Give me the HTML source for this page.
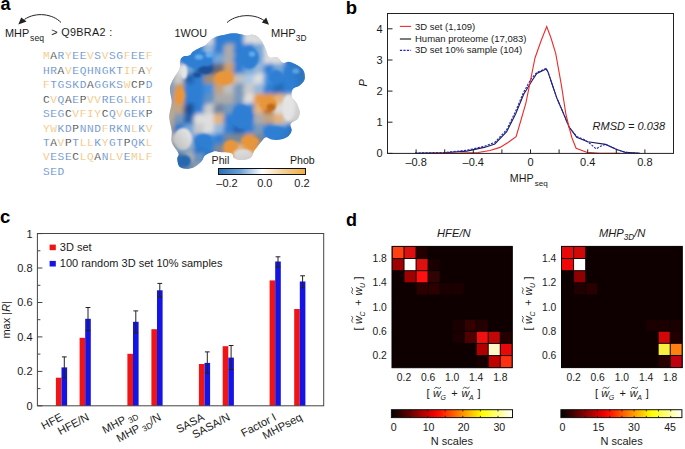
<!DOCTYPE html>
<html><head><meta charset="utf-8"><style>
html,body{margin:0;padding:0;background:#fff;width:685px;height:449px;overflow:hidden}
svg{display:block}
text{font-family:"Liberation Sans", sans-serif;fill:#1a1a1a}
.mono{font-family:"Liberation Mono", monospace;stroke:#fff;stroke-width:0.18px}
.b{font-weight:bold;fill:#000}
.i{font-style:italic}
</style></head><body>
<svg width="685" height="449" viewBox="0 0 685 449">
<defs>
<marker id="ah" viewBox="0 0 10 10" refX="9" refY="5" markerWidth="6" markerHeight="6" orient="auto-start-reverse"><path d="M0,0 L10,5 L0,10 z" fill="#222"/></marker>
</defs>

<text class="b" x="0.4" y="10" font-size="18">a</text>
<path d="M61,22.5 C53,14 36,11.5 24.5,19.4" fill="none" stroke="#222" stroke-width="1"/>
<path d="M18.3,24.6 L21.2,17.6 L26.6,21.6 Z" fill="#222"/>
<text x="5" y="36.7" font-size="10.9">MHP</text>
<text x="30.1" y="40.7" font-size="8.6">seq</text>
<text x="51.2" y="35.9" font-size="10.8" textLength="61" lengthAdjust="spacing">&gt; Q9BRA2 :</text>
<text class="mono" x="46.30" y="59.20" font-size="11.2" text-anchor="middle" style="fill:#f2bd6c">M</text>
<text class="mono" x="53.64" y="59.20" font-size="11.2" text-anchor="middle" style="fill:#333333">A</text>
<text class="mono" x="60.98" y="59.20" font-size="11.2" text-anchor="middle" style="fill:#4f82c6">R</text>
<text class="mono" x="68.32" y="59.20" font-size="11.2" text-anchor="middle" style="fill:#f2bd6c">Y</text>
<text class="mono" x="75.66" y="59.20" font-size="11.2" text-anchor="middle" style="fill:#4f82c6">E</text>
<text class="mono" x="83.00" y="59.20" font-size="11.2" text-anchor="middle" style="fill:#4f82c6">E</text>
<text class="mono" x="90.34" y="59.20" font-size="11.2" text-anchor="middle" style="fill:#f2bd6c">V</text>
<text class="mono" x="97.68" y="59.20" font-size="11.2" text-anchor="middle" style="fill:#4f82c6">S</text>
<text class="mono" x="105.02" y="59.20" font-size="11.2" text-anchor="middle" style="fill:#f2bd6c">V</text>
<text class="mono" x="112.36" y="59.20" font-size="11.2" text-anchor="middle" style="fill:#4f82c6">S</text>
<text class="mono" x="119.70" y="59.20" font-size="11.2" text-anchor="middle" style="fill:#4f82c6">G</text>
<text class="mono" x="127.04" y="59.20" font-size="11.2" text-anchor="middle" style="fill:#f2bd6c">F</text>
<text class="mono" x="134.38" y="59.20" font-size="11.2" text-anchor="middle" style="fill:#4f82c6">E</text>
<text class="mono" x="141.72" y="59.20" font-size="11.2" text-anchor="middle" style="fill:#4f82c6">E</text>
<text class="mono" x="149.06" y="59.20" font-size="11.2" text-anchor="middle" style="fill:#f2bd6c">F</text>
<text class="mono" x="46.30" y="73.67" font-size="11.2" text-anchor="middle" style="fill:#4f82c6">H</text>
<text class="mono" x="53.64" y="73.67" font-size="11.2" text-anchor="middle" style="fill:#4f82c6">R</text>
<text class="mono" x="60.98" y="73.67" font-size="11.2" text-anchor="middle" style="fill:#333333">A</text>
<text class="mono" x="68.32" y="73.67" font-size="11.2" text-anchor="middle" style="fill:#f2bd6c">V</text>
<text class="mono" x="75.66" y="73.67" font-size="11.2" text-anchor="middle" style="fill:#4f82c6">E</text>
<text class="mono" x="83.00" y="73.67" font-size="11.2" text-anchor="middle" style="fill:#4f82c6">Q</text>
<text class="mono" x="90.34" y="73.67" font-size="11.2" text-anchor="middle" style="fill:#4f82c6">H</text>
<text class="mono" x="97.68" y="73.67" font-size="11.2" text-anchor="middle" style="fill:#4f82c6">N</text>
<text class="mono" x="105.02" y="73.67" font-size="11.2" text-anchor="middle" style="fill:#4f82c6">G</text>
<text class="mono" x="112.36" y="73.67" font-size="11.2" text-anchor="middle" style="fill:#4f82c6">K</text>
<text class="mono" x="119.70" y="73.67" font-size="11.2" text-anchor="middle" style="fill:#4f82c6">T</text>
<text class="mono" x="127.04" y="73.67" font-size="11.2" text-anchor="middle" style="fill:#f2bd6c">I</text>
<text class="mono" x="134.38" y="73.67" font-size="11.2" text-anchor="middle" style="fill:#f2bd6c">F</text>
<text class="mono" x="141.72" y="73.67" font-size="11.2" text-anchor="middle" style="fill:#333333">A</text>
<text class="mono" x="149.06" y="73.67" font-size="11.2" text-anchor="middle" style="fill:#f2bd6c">Y</text>
<text class="mono" x="46.30" y="88.14" font-size="11.2" text-anchor="middle" style="fill:#f2bd6c">F</text>
<text class="mono" x="53.64" y="88.14" font-size="11.2" text-anchor="middle" style="fill:#4f82c6">T</text>
<text class="mono" x="60.98" y="88.14" font-size="11.2" text-anchor="middle" style="fill:#4f82c6">G</text>
<text class="mono" x="68.32" y="88.14" font-size="11.2" text-anchor="middle" style="fill:#4f82c6">S</text>
<text class="mono" x="75.66" y="88.14" font-size="11.2" text-anchor="middle" style="fill:#4f82c6">K</text>
<text class="mono" x="83.00" y="88.14" font-size="11.2" text-anchor="middle" style="fill:#4f82c6">D</text>
<text class="mono" x="90.34" y="88.14" font-size="11.2" text-anchor="middle" style="fill:#333333">A</text>
<text class="mono" x="97.68" y="88.14" font-size="11.2" text-anchor="middle" style="fill:#4f82c6">G</text>
<text class="mono" x="105.02" y="88.14" font-size="11.2" text-anchor="middle" style="fill:#4f82c6">G</text>
<text class="mono" x="112.36" y="88.14" font-size="11.2" text-anchor="middle" style="fill:#4f82c6">K</text>
<text class="mono" x="119.70" y="88.14" font-size="11.2" text-anchor="middle" style="fill:#4f82c6">S</text>
<text class="mono" x="127.04" y="88.14" font-size="11.2" text-anchor="middle" style="fill:#f2bd6c">W</text>
<text class="mono" x="134.38" y="88.14" font-size="11.2" text-anchor="middle" style="fill:#333333">C</text>
<text class="mono" x="141.72" y="88.14" font-size="11.2" text-anchor="middle" style="fill:#333333">P</text>
<text class="mono" x="149.06" y="88.14" font-size="11.2" text-anchor="middle" style="fill:#4f82c6">D</text>
<text class="mono" x="46.30" y="102.61" font-size="11.2" text-anchor="middle" style="fill:#333333">C</text>
<text class="mono" x="53.64" y="102.61" font-size="11.2" text-anchor="middle" style="fill:#f2bd6c">V</text>
<text class="mono" x="60.98" y="102.61" font-size="11.2" text-anchor="middle" style="fill:#4f82c6">Q</text>
<text class="mono" x="68.32" y="102.61" font-size="11.2" text-anchor="middle" style="fill:#333333">A</text>
<text class="mono" x="75.66" y="102.61" font-size="11.2" text-anchor="middle" style="fill:#4f82c6">E</text>
<text class="mono" x="83.00" y="102.61" font-size="11.2" text-anchor="middle" style="fill:#333333">P</text>
<text class="mono" x="90.34" y="102.61" font-size="11.2" text-anchor="middle" style="fill:#f2bd6c">V</text>
<text class="mono" x="97.68" y="102.61" font-size="11.2" text-anchor="middle" style="fill:#f2bd6c">V</text>
<text class="mono" x="105.02" y="102.61" font-size="11.2" text-anchor="middle" style="fill:#4f82c6">R</text>
<text class="mono" x="112.36" y="102.61" font-size="11.2" text-anchor="middle" style="fill:#4f82c6">E</text>
<text class="mono" x="119.70" y="102.61" font-size="11.2" text-anchor="middle" style="fill:#4f82c6">G</text>
<text class="mono" x="127.04" y="102.61" font-size="11.2" text-anchor="middle" style="fill:#f2bd6c">L</text>
<text class="mono" x="134.38" y="102.61" font-size="11.2" text-anchor="middle" style="fill:#4f82c6">K</text>
<text class="mono" x="141.72" y="102.61" font-size="11.2" text-anchor="middle" style="fill:#4f82c6">H</text>
<text class="mono" x="149.06" y="102.61" font-size="11.2" text-anchor="middle" style="fill:#f2bd6c">I</text>
<text class="mono" x="46.30" y="117.08" font-size="11.2" text-anchor="middle" style="fill:#4f82c6">S</text>
<text class="mono" x="53.64" y="117.08" font-size="11.2" text-anchor="middle" style="fill:#4f82c6">E</text>
<text class="mono" x="60.98" y="117.08" font-size="11.2" text-anchor="middle" style="fill:#4f82c6">G</text>
<text class="mono" x="68.32" y="117.08" font-size="11.2" text-anchor="middle" style="fill:#333333">C</text>
<text class="mono" x="75.66" y="117.08" font-size="11.2" text-anchor="middle" style="fill:#f2bd6c">V</text>
<text class="mono" x="83.00" y="117.08" font-size="11.2" text-anchor="middle" style="fill:#f2bd6c">F</text>
<text class="mono" x="90.34" y="117.08" font-size="11.2" text-anchor="middle" style="fill:#f2bd6c">I</text>
<text class="mono" x="97.68" y="117.08" font-size="11.2" text-anchor="middle" style="fill:#f2bd6c">Y</text>
<text class="mono" x="105.02" y="117.08" font-size="11.2" text-anchor="middle" style="fill:#333333">C</text>
<text class="mono" x="112.36" y="117.08" font-size="11.2" text-anchor="middle" style="fill:#4f82c6">Q</text>
<text class="mono" x="119.70" y="117.08" font-size="11.2" text-anchor="middle" style="fill:#f2bd6c">V</text>
<text class="mono" x="127.04" y="117.08" font-size="11.2" text-anchor="middle" style="fill:#4f82c6">G</text>
<text class="mono" x="134.38" y="117.08" font-size="11.2" text-anchor="middle" style="fill:#4f82c6">E</text>
<text class="mono" x="141.72" y="117.08" font-size="11.2" text-anchor="middle" style="fill:#4f82c6">K</text>
<text class="mono" x="149.06" y="117.08" font-size="11.2" text-anchor="middle" style="fill:#333333">P</text>
<text class="mono" x="46.30" y="131.55" font-size="11.2" text-anchor="middle" style="fill:#f2bd6c">Y</text>
<text class="mono" x="53.64" y="131.55" font-size="11.2" text-anchor="middle" style="fill:#f2bd6c">W</text>
<text class="mono" x="60.98" y="131.55" font-size="11.2" text-anchor="middle" style="fill:#4f82c6">K</text>
<text class="mono" x="68.32" y="131.55" font-size="11.2" text-anchor="middle" style="fill:#4f82c6">D</text>
<text class="mono" x="75.66" y="131.55" font-size="11.2" text-anchor="middle" style="fill:#333333">P</text>
<text class="mono" x="83.00" y="131.55" font-size="11.2" text-anchor="middle" style="fill:#4f82c6">N</text>
<text class="mono" x="90.34" y="131.55" font-size="11.2" text-anchor="middle" style="fill:#4f82c6">N</text>
<text class="mono" x="97.68" y="131.55" font-size="11.2" text-anchor="middle" style="fill:#4f82c6">D</text>
<text class="mono" x="105.02" y="131.55" font-size="11.2" text-anchor="middle" style="fill:#f2bd6c">F</text>
<text class="mono" x="112.36" y="131.55" font-size="11.2" text-anchor="middle" style="fill:#4f82c6">R</text>
<text class="mono" x="119.70" y="131.55" font-size="11.2" text-anchor="middle" style="fill:#4f82c6">K</text>
<text class="mono" x="127.04" y="131.55" font-size="11.2" text-anchor="middle" style="fill:#4f82c6">N</text>
<text class="mono" x="134.38" y="131.55" font-size="11.2" text-anchor="middle" style="fill:#f2bd6c">L</text>
<text class="mono" x="141.72" y="131.55" font-size="11.2" text-anchor="middle" style="fill:#4f82c6">K</text>
<text class="mono" x="149.06" y="131.55" font-size="11.2" text-anchor="middle" style="fill:#f2bd6c">V</text>
<text class="mono" x="46.30" y="146.02" font-size="11.2" text-anchor="middle" style="fill:#4f82c6">T</text>
<text class="mono" x="53.64" y="146.02" font-size="11.2" text-anchor="middle" style="fill:#333333">A</text>
<text class="mono" x="60.98" y="146.02" font-size="11.2" text-anchor="middle" style="fill:#f2bd6c">V</text>
<text class="mono" x="68.32" y="146.02" font-size="11.2" text-anchor="middle" style="fill:#333333">P</text>
<text class="mono" x="75.66" y="146.02" font-size="11.2" text-anchor="middle" style="fill:#4f82c6">T</text>
<text class="mono" x="83.00" y="146.02" font-size="11.2" text-anchor="middle" style="fill:#f2bd6c">L</text>
<text class="mono" x="90.34" y="146.02" font-size="11.2" text-anchor="middle" style="fill:#f2bd6c">L</text>
<text class="mono" x="97.68" y="146.02" font-size="11.2" text-anchor="middle" style="fill:#4f82c6">K</text>
<text class="mono" x="105.02" y="146.02" font-size="11.2" text-anchor="middle" style="fill:#f2bd6c">Y</text>
<text class="mono" x="112.36" y="146.02" font-size="11.2" text-anchor="middle" style="fill:#4f82c6">G</text>
<text class="mono" x="119.70" y="146.02" font-size="11.2" text-anchor="middle" style="fill:#4f82c6">T</text>
<text class="mono" x="127.04" y="146.02" font-size="11.2" text-anchor="middle" style="fill:#333333">P</text>
<text class="mono" x="134.38" y="146.02" font-size="11.2" text-anchor="middle" style="fill:#4f82c6">Q</text>
<text class="mono" x="141.72" y="146.02" font-size="11.2" text-anchor="middle" style="fill:#4f82c6">K</text>
<text class="mono" x="149.06" y="146.02" font-size="11.2" text-anchor="middle" style="fill:#f2bd6c">L</text>
<text class="mono" x="46.30" y="160.49" font-size="11.2" text-anchor="middle" style="fill:#f2bd6c">V</text>
<text class="mono" x="53.64" y="160.49" font-size="11.2" text-anchor="middle" style="fill:#4f82c6">E</text>
<text class="mono" x="60.98" y="160.49" font-size="11.2" text-anchor="middle" style="fill:#4f82c6">S</text>
<text class="mono" x="68.32" y="160.49" font-size="11.2" text-anchor="middle" style="fill:#4f82c6">E</text>
<text class="mono" x="75.66" y="160.49" font-size="11.2" text-anchor="middle" style="fill:#333333">C</text>
<text class="mono" x="83.00" y="160.49" font-size="11.2" text-anchor="middle" style="fill:#f2bd6c">L</text>
<text class="mono" x="90.34" y="160.49" font-size="11.2" text-anchor="middle" style="fill:#f2bd6c">Q</text>
<text class="mono" x="97.68" y="160.49" font-size="11.2" text-anchor="middle" style="fill:#333333">A</text>
<text class="mono" x="105.02" y="160.49" font-size="11.2" text-anchor="middle" style="fill:#4f82c6">N</text>
<text class="mono" x="112.36" y="160.49" font-size="11.2" text-anchor="middle" style="fill:#f2bd6c">L</text>
<text class="mono" x="119.70" y="160.49" font-size="11.2" text-anchor="middle" style="fill:#f2bd6c">V</text>
<text class="mono" x="127.04" y="160.49" font-size="11.2" text-anchor="middle" style="fill:#4f82c6">E</text>
<text class="mono" x="134.38" y="160.49" font-size="11.2" text-anchor="middle" style="fill:#f2bd6c">M</text>
<text class="mono" x="141.72" y="160.49" font-size="11.2" text-anchor="middle" style="fill:#f2bd6c">L</text>
<text class="mono" x="149.06" y="160.49" font-size="11.2" text-anchor="middle" style="fill:#f2bd6c">F</text>
<text class="mono" x="46.30" y="174.96" font-size="11.2" text-anchor="middle" style="fill:#4f82c6">S</text>
<text class="mono" x="53.64" y="174.96" font-size="11.2" text-anchor="middle" style="fill:#4f82c6">E</text>
<text class="mono" x="60.98" y="174.96" font-size="11.2" text-anchor="middle" style="fill:#4f82c6">D</text>
<text x="174.6" y="37.2" font-size="10.8">1WOU</text>
<path d="M227,22.6 C235,15 253,12.5 264.5,20.8" fill="none" stroke="#222" stroke-width="1"/>
<path d="M269,24.8 L261.8,22.4 L266.2,17.6 Z" fill="#222"/>
<text x="271" y="37.2" font-size="11.1">MHP</text>
<text x="295.8" y="41.3" font-size="8.4">3D</text>
<defs><clipPath id="blobclip"><path d="M170.6,85.0 C171.4,82.5 173.5,78.8 175.0,76.0 C176.5,73.2 178.6,71.2 179.5,68.4 C180.4,65.7 179.9,61.5 180.6,59.5 C181.3,57.5 182.4,56.9 183.9,56.2 C185.4,55.6 188.0,56.4 189.5,55.6 C191.0,54.9 191.3,52.9 192.8,51.7 C194.3,50.5 196.5,49.3 198.4,48.4 C200.3,47.5 202.6,46.9 204.0,46.1 C205.4,45.3 205.7,45.0 207.0,43.8 C208.3,42.6 209.9,40.4 211.7,39.1 C213.4,37.8 215.2,37.0 217.5,36.2 C219.8,35.4 223.0,34.9 225.7,34.4 C228.4,33.9 231.3,33.3 233.9,33.3 C236.5,33.3 238.9,33.9 241.0,34.2 C243.1,34.6 245.0,35.4 246.7,35.4 C248.4,35.4 249.8,34.4 251.4,34.4 C253.0,34.4 254.4,34.7 256.0,35.6 C257.6,36.5 259.4,38.2 260.7,39.7 C262.0,41.2 262.8,42.7 263.7,44.4 C264.6,46.1 265.0,47.9 266.0,50.0 C267.0,52.1 267.6,56.1 269.5,57.3 C271.4,58.5 275.1,56.4 277.3,57.3 C279.5,58.2 281.0,62.1 282.8,62.8 C284.6,63.5 286.4,61.5 288.4,61.7 C290.4,61.9 292.8,62.9 295.0,64.0 C297.2,65.1 300.2,66.9 301.8,68.4 C303.4,69.9 304.1,71.1 304.5,73.0 C304.9,74.9 305.4,77.8 304.5,80.0 C303.6,82.2 300.9,84.5 299.0,86.0 C297.1,87.5 294.1,87.1 292.9,88.9 C291.7,90.7 291.1,94.5 291.7,96.7 C292.2,98.9 294.9,100.1 296.2,102.3 C297.5,104.5 298.9,107.9 299.5,110.0 C300.1,112.1 299.9,113.4 299.5,115.0 C299.1,116.6 298.8,118.0 297.3,119.5 C295.8,121.0 291.5,122.1 290.6,123.9 C289.7,125.8 292.1,128.6 291.7,130.6 C291.3,132.6 290.2,134.7 288.4,136.2 C286.5,137.7 283.4,138.9 280.6,139.5 C277.8,140.1 274.1,139.9 271.7,139.5 C269.3,139.1 267.7,137.0 266.0,137.3 C264.3,137.6 263.1,139.6 261.7,141.2 C260.2,142.8 258.6,145.0 257.3,146.7 C256.0,148.4 255.1,149.3 254.0,151.2 C252.9,153.1 252.8,156.4 250.6,157.9 C248.4,159.4 243.4,160.1 240.6,160.1 C237.8,160.1 235.5,159.0 234.0,157.9 C232.5,156.8 233.8,154.3 231.7,153.4 C229.6,152.5 224.5,152.7 221.7,152.3 C218.9,151.9 216.7,151.2 215.0,151.2 C213.3,151.2 213.5,151.6 211.8,152.3 C210.1,153.0 206.7,154.1 205.0,155.6 C203.3,157.1 203.4,159.3 201.7,161.2 C200.0,163.1 197.4,165.5 195.0,166.8 C192.6,168.1 189.9,169.0 187.3,169.0 C184.7,169.0 181.2,168.5 179.5,166.8 C177.8,165.1 177.4,161.2 177.2,159.0 C177.0,156.8 179.3,156.2 178.4,153.4 C177.5,150.6 172.8,146.0 171.7,142.3 C170.6,138.6 172.1,134.7 171.7,131.0 C171.3,127.3 169.9,122.9 169.5,120.0 C169.1,117.1 169.1,116.4 169.5,113.4 C169.9,110.5 171.6,106.0 171.7,102.3 C171.8,98.6 170.2,93.9 170.0,91.0 C169.8,88.1 169.8,87.5 170.6,85.0 Z"/></clipPath><filter id="bl" x="-10%" y="-10%" width="120%" height="120%"><feGaussianBlur stdDeviation="2.0"/></filter><filter id="bl2" x="-20%" y="-20%" width="140%" height="140%"><feGaussianBlur stdDeviation="1"/></filter><radialGradient id="shade" cx="0.48" cy="0.45" r="0.6"><stop offset="0.72" stop-color="#000" stop-opacity="0"/><stop offset="1" stop-color="#000" stop-opacity="0.18"/></radialGradient></defs>
<g clip-path="url(#blobclip)">
<path d="M170.6,85.0 C171.4,82.5 173.5,78.8 175.0,76.0 C176.5,73.2 178.6,71.2 179.5,68.4 C180.4,65.7 179.9,61.5 180.6,59.5 C181.3,57.5 182.4,56.9 183.9,56.2 C185.4,55.6 188.0,56.4 189.5,55.6 C191.0,54.9 191.3,52.9 192.8,51.7 C194.3,50.5 196.5,49.3 198.4,48.4 C200.3,47.5 202.6,46.9 204.0,46.1 C205.4,45.3 205.7,45.0 207.0,43.8 C208.3,42.6 209.9,40.4 211.7,39.1 C213.4,37.8 215.2,37.0 217.5,36.2 C219.8,35.4 223.0,34.9 225.7,34.4 C228.4,33.9 231.3,33.3 233.9,33.3 C236.5,33.3 238.9,33.9 241.0,34.2 C243.1,34.6 245.0,35.4 246.7,35.4 C248.4,35.4 249.8,34.4 251.4,34.4 C253.0,34.4 254.4,34.7 256.0,35.6 C257.6,36.5 259.4,38.2 260.7,39.7 C262.0,41.2 262.8,42.7 263.7,44.4 C264.6,46.1 265.0,47.9 266.0,50.0 C267.0,52.1 267.6,56.1 269.5,57.3 C271.4,58.5 275.1,56.4 277.3,57.3 C279.5,58.2 281.0,62.1 282.8,62.8 C284.6,63.5 286.4,61.5 288.4,61.7 C290.4,61.9 292.8,62.9 295.0,64.0 C297.2,65.1 300.2,66.9 301.8,68.4 C303.4,69.9 304.1,71.1 304.5,73.0 C304.9,74.9 305.4,77.8 304.5,80.0 C303.6,82.2 300.9,84.5 299.0,86.0 C297.1,87.5 294.1,87.1 292.9,88.9 C291.7,90.7 291.1,94.5 291.7,96.7 C292.2,98.9 294.9,100.1 296.2,102.3 C297.5,104.5 298.9,107.9 299.5,110.0 C300.1,112.1 299.9,113.4 299.5,115.0 C299.1,116.6 298.8,118.0 297.3,119.5 C295.8,121.0 291.5,122.1 290.6,123.9 C289.7,125.8 292.1,128.6 291.7,130.6 C291.3,132.6 290.2,134.7 288.4,136.2 C286.5,137.7 283.4,138.9 280.6,139.5 C277.8,140.1 274.1,139.9 271.7,139.5 C269.3,139.1 267.7,137.0 266.0,137.3 C264.3,137.6 263.1,139.6 261.7,141.2 C260.2,142.8 258.6,145.0 257.3,146.7 C256.0,148.4 255.1,149.3 254.0,151.2 C252.9,153.1 252.8,156.4 250.6,157.9 C248.4,159.4 243.4,160.1 240.6,160.1 C237.8,160.1 235.5,159.0 234.0,157.9 C232.5,156.8 233.8,154.3 231.7,153.4 C229.6,152.5 224.5,152.7 221.7,152.3 C218.9,151.9 216.7,151.2 215.0,151.2 C213.3,151.2 213.5,151.6 211.8,152.3 C210.1,153.0 206.7,154.1 205.0,155.6 C203.3,157.1 203.4,159.3 201.7,161.2 C200.0,163.1 197.4,165.5 195.0,166.8 C192.6,168.1 189.9,169.0 187.3,169.0 C184.7,169.0 181.2,168.5 179.5,166.8 C177.8,165.1 177.4,161.2 177.2,159.0 C177.0,156.8 179.3,156.2 178.4,153.4 C177.5,150.6 172.8,146.0 171.7,142.3 C170.6,138.6 172.1,134.7 171.7,131.0 C171.3,127.3 169.9,122.9 169.5,120.0 C169.1,117.1 169.1,116.4 169.5,113.4 C169.9,110.5 171.6,106.0 171.7,102.3 C171.8,98.6 170.2,93.9 170.0,91.0 C169.8,88.1 169.8,87.5 170.6,85.0 Z" fill="#c8c8c8"/>
<g filter="url(#bl)">
<rect x="213.5" y="23.5" width="13" height="13" rx="5" fill="#2f7fd4"/>
<rect x="223.5" y="23.5" width="13" height="13" rx="5" fill="#2f7fd4"/>
<rect x="233.5" y="23.5" width="13" height="13" rx="5" fill="#2f7fd4"/>
<rect x="243.5" y="23.5" width="13" height="13" rx="5" fill="#dedede"/>
<rect x="253.5" y="23.5" width="13" height="13" rx="5" fill="#dedede"/>
<rect x="203.5" y="33.5" width="13" height="13" rx="5" fill="#dedede"/>
<rect x="213.5" y="33.5" width="13" height="13" rx="5" fill="#2f7fd4"/>
<rect x="223.5" y="33.5" width="13" height="13" rx="5" fill="#2f7fd4"/>
<rect x="233.5" y="33.5" width="13" height="13" rx="5" fill="#2f7fd4"/>
<rect x="243.5" y="33.5" width="13" height="13" rx="5" fill="#dedede"/>
<rect x="253.5" y="33.5" width="13" height="13" rx="5" fill="#dedede"/>
<rect x="183.5" y="43.5" width="13" height="13" rx="5" fill="#2f7fd4"/>
<rect x="193.5" y="43.5" width="13" height="13" rx="5" fill="#2f7fd4"/>
<rect x="203.5" y="43.5" width="13" height="13" rx="5" fill="#98b8da"/>
<rect x="213.5" y="43.5" width="13" height="13" rx="5" fill="#2f7fd4"/>
<rect x="223.5" y="43.5" width="13" height="13" rx="5" fill="#ababab"/>
<rect x="233.5" y="43.5" width="13" height="13" rx="5" fill="#2f7fd4"/>
<rect x="243.5" y="43.5" width="13" height="13" rx="5" fill="#2f7fd4"/>
<rect x="253.5" y="43.5" width="13" height="13" rx="5" fill="#75a5d8"/>
<rect x="263.5" y="43.5" width="13" height="13" rx="5" fill="#dedede"/>
<rect x="173.5" y="53.5" width="13" height="13" rx="5" fill="#2f7fd4"/>
<rect x="183.5" y="53.5" width="13" height="13" rx="5" fill="#2f7fd4"/>
<rect x="193.5" y="53.5" width="13" height="13" rx="5" fill="#4998e2"/>
<rect x="203.5" y="53.5" width="13" height="13" rx="5" fill="#408fde"/>
<rect x="213.5" y="53.5" width="13" height="13" rx="5" fill="#75a5d8"/>
<rect x="223.5" y="53.5" width="13" height="13" rx="5" fill="#ababab"/>
<rect x="233.5" y="53.5" width="13" height="13" rx="5" fill="#2f7fd4"/>
<rect x="243.5" y="53.5" width="13" height="13" rx="5" fill="#408fde"/>
<rect x="253.5" y="53.5" width="13" height="13" rx="5" fill="#75a5d8"/>
<rect x="263.5" y="53.5" width="13" height="13" rx="5" fill="#dedede"/>
<rect x="273.5" y="53.5" width="13" height="13" rx="5" fill="#dedede"/>
<rect x="283.5" y="53.5" width="13" height="13" rx="5" fill="#2f7fd4"/>
<rect x="293.5" y="53.5" width="13" height="13" rx="5" fill="#2f7fd4"/>
<rect x="163.5" y="63.5" width="13" height="13" rx="5" fill="#dedede"/>
<rect x="173.5" y="63.5" width="13" height="13" rx="5" fill="#dedede"/>
<rect x="183.5" y="63.5" width="13" height="13" rx="5" fill="#75a5d8"/>
<rect x="193.5" y="63.5" width="13" height="13" rx="5" fill="#276cbb"/>
<rect x="203.5" y="63.5" width="13" height="13" rx="5" fill="#1a4f96"/>
<rect x="213.5" y="63.5" width="13" height="13" rx="5" fill="#6c6b71"/>
<rect x="223.5" y="63.5" width="13" height="13" rx="5" fill="#d09e67"/>
<rect x="233.5" y="63.5" width="13" height="13" rx="5" fill="#2f7fd4"/>
<rect x="243.5" y="63.5" width="13" height="13" rx="5" fill="#75a5d8"/>
<rect x="253.5" y="63.5" width="13" height="13" rx="5" fill="#98b8da"/>
<rect x="263.5" y="63.5" width="13" height="13" rx="5" fill="#2f7fd4"/>
<rect x="273.5" y="63.5" width="13" height="13" rx="5" fill="#75a5d8"/>
<rect x="283.5" y="63.5" width="13" height="13" rx="5" fill="#2f7fd4"/>
<rect x="293.5" y="63.5" width="13" height="13" rx="5" fill="#408fde"/>
<rect x="163.5" y="73.5" width="13" height="13" rx="5" fill="#86a3c8"/>
<rect x="173.5" y="73.5" width="13" height="13" rx="5" fill="#cacaca"/>
<rect x="183.5" y="73.5" width="13" height="13" rx="5" fill="#2262af"/>
<rect x="193.5" y="73.5" width="13" height="13" rx="5" fill="#2f7fd4"/>
<rect x="203.5" y="73.5" width="13" height="13" rx="5" fill="#9e8d78"/>
<rect x="213.5" y="73.5" width="13" height="13" rx="5" fill="#e8963a"/>
<rect x="223.5" y="73.5" width="13" height="13" rx="5" fill="#e8963a"/>
<rect x="233.5" y="73.5" width="13" height="13" rx="5" fill="#bfbfbf"/>
<rect x="243.5" y="73.5" width="13" height="13" rx="5" fill="#a9c8e4"/>
<rect x="253.5" y="73.5" width="13" height="13" rx="5" fill="#dedede"/>
<rect x="263.5" y="73.5" width="13" height="13" rx="5" fill="#408fde"/>
<rect x="273.5" y="73.5" width="13" height="13" rx="5" fill="#2f7fd4"/>
<rect x="283.5" y="73.5" width="13" height="13" rx="5" fill="#2f7fd4"/>
<rect x="293.5" y="73.5" width="13" height="13" rx="5" fill="#2f7fd4"/>
<rect x="163.5" y="83.5" width="13" height="13" rx="5" fill="#86a3c8"/>
<rect x="173.5" y="83.5" width="13" height="13" rx="5" fill="#c19b73"/>
<rect x="183.5" y="83.5" width="13" height="13" rx="5" fill="#2f7fd4"/>
<rect x="193.5" y="83.5" width="13" height="13" rx="5" fill="#2f7fd4"/>
<rect x="203.5" y="83.5" width="13" height="13" rx="5" fill="#408fde"/>
<rect x="213.5" y="83.5" width="13" height="13" rx="5" fill="#c3a37e"/>
<rect x="223.5" y="83.5" width="13" height="13" rx="5" fill="#bfbfbf"/>
<rect x="233.5" y="83.5" width="13" height="13" rx="5" fill="#7999bb"/>
<rect x="243.5" y="83.5" width="13" height="13" rx="5" fill="#cacaca"/>
<rect x="253.5" y="83.5" width="13" height="13" rx="5" fill="#98b8da"/>
<rect x="263.5" y="83.5" width="13" height="13" rx="5" fill="#2f7fd4"/>
<rect x="273.5" y="83.5" width="13" height="13" rx="5" fill="#276cbb"/>
<rect x="283.5" y="83.5" width="13" height="13" rx="5" fill="#2f7fd4"/>
<rect x="293.5" y="83.5" width="13" height="13" rx="5" fill="#2f7fd4"/>
<rect x="163.5" y="93.5" width="13" height="13" rx="5" fill="#86a3c8"/>
<rect x="173.5" y="93.5" width="13" height="13" rx="5" fill="#e8963a"/>
<rect x="183.5" y="93.5" width="13" height="13" rx="5" fill="#2f7fd4"/>
<rect x="193.5" y="93.5" width="13" height="13" rx="5" fill="#2f7fd4"/>
<rect x="203.5" y="93.5" width="13" height="13" rx="5" fill="#6191c4"/>
<rect x="213.5" y="93.5" width="13" height="13" rx="5" fill="#ababab"/>
<rect x="223.5" y="93.5" width="13" height="13" rx="5" fill="#ababab"/>
<rect x="233.5" y="93.5" width="13" height="13" rx="5" fill="#7999bb"/>
<rect x="243.5" y="93.5" width="13" height="13" rx="5" fill="#dedede"/>
<rect x="253.5" y="93.5" width="13" height="13" rx="5" fill="#e8963a"/>
<rect x="263.5" y="93.5" width="13" height="13" rx="5" fill="#e8963a"/>
<rect x="273.5" y="93.5" width="13" height="13" rx="5" fill="#e4b37c"/>
<rect x="283.5" y="93.5" width="13" height="13" rx="5" fill="#cacaca"/>
<rect x="293.5" y="93.5" width="13" height="13" rx="5" fill="#dedede"/>
<rect x="163.5" y="103.5" width="13" height="13" rx="5" fill="#bcb2a6"/>
<rect x="173.5" y="103.5" width="13" height="13" rx="5" fill="#c3a37e"/>
<rect x="183.5" y="103.5" width="13" height="13" rx="5" fill="#1a4f96"/>
<rect x="193.5" y="103.5" width="13" height="13" rx="5" fill="#2f7fd4"/>
<rect x="203.5" y="103.5" width="13" height="13" rx="5" fill="#cacaca"/>
<rect x="213.5" y="103.5" width="13" height="13" rx="5" fill="#7186a3"/>
<rect x="223.5" y="103.5" width="13" height="13" rx="5" fill="#7999bb"/>
<rect x="233.5" y="103.5" width="13" height="13" rx="5" fill="#2f7fd4"/>
<rect x="243.5" y="103.5" width="13" height="13" rx="5" fill="#2f7fd4"/>
<rect x="253.5" y="103.5" width="13" height="13" rx="5" fill="#e4b37c"/>
<rect x="263.5" y="103.5" width="13" height="13" rx="5" fill="#c06a18"/>
<rect x="273.5" y="103.5" width="13" height="13" rx="5" fill="#dedede"/>
<rect x="283.5" y="103.5" width="13" height="13" rx="5" fill="#cacaca"/>
<rect x="293.5" y="103.5" width="13" height="13" rx="5" fill="#dedede"/>
<rect x="163.5" y="113.5" width="13" height="13" rx="5" fill="#c8b6a2"/>
<rect x="173.5" y="113.5" width="13" height="13" rx="5" fill="#7999bb"/>
<rect x="183.5" y="113.5" width="13" height="13" rx="5" fill="#2262af"/>
<rect x="193.5" y="113.5" width="13" height="13" rx="5" fill="#dedede"/>
<rect x="203.5" y="113.5" width="13" height="13" rx="5" fill="#dedede"/>
<rect x="213.5" y="113.5" width="13" height="13" rx="5" fill="#e4b37c"/>
<rect x="223.5" y="113.5" width="13" height="13" rx="5" fill="#2f7fd4"/>
<rect x="233.5" y="113.5" width="13" height="13" rx="5" fill="#2f7fd4"/>
<rect x="243.5" y="113.5" width="13" height="13" rx="5" fill="#2f7fd4"/>
<rect x="253.5" y="113.5" width="13" height="13" rx="5" fill="#ababab"/>
<rect x="263.5" y="113.5" width="13" height="13" rx="5" fill="#c3a37e"/>
<rect x="273.5" y="113.5" width="13" height="13" rx="5" fill="#e4b37c"/>
<rect x="283.5" y="113.5" width="13" height="13" rx="5" fill="#cacaca"/>
<rect x="293.5" y="113.5" width="13" height="13" rx="5" fill="#dedede"/>
<rect x="163.5" y="123.5" width="13" height="13" rx="5" fill="#bcb2a6"/>
<rect x="173.5" y="123.5" width="13" height="13" rx="5" fill="#2f7fd4"/>
<rect x="183.5" y="123.5" width="13" height="13" rx="5" fill="#75a5d8"/>
<rect x="193.5" y="123.5" width="13" height="13" rx="5" fill="#cacaca"/>
<rect x="203.5" y="123.5" width="13" height="13" rx="5" fill="#dedede"/>
<rect x="213.5" y="123.5" width="13" height="13" rx="5" fill="#98b8da"/>
<rect x="223.5" y="123.5" width="13" height="13" rx="5" fill="#2f7fd4"/>
<rect x="233.5" y="123.5" width="13" height="13" rx="5" fill="#2262af"/>
<rect x="243.5" y="123.5" width="13" height="13" rx="5" fill="#2f7fd4"/>
<rect x="253.5" y="123.5" width="13" height="13" rx="5" fill="#7999bb"/>
<rect x="263.5" y="123.5" width="13" height="13" rx="5" fill="#2f7fd4"/>
<rect x="273.5" y="123.5" width="13" height="13" rx="5" fill="#75a5d8"/>
<rect x="283.5" y="123.5" width="13" height="13" rx="5" fill="#2f7fd4"/>
<rect x="163.5" y="133.5" width="13" height="13" rx="5" fill="#cacaca"/>
<rect x="173.5" y="133.5" width="13" height="13" rx="5" fill="#dedede"/>
<rect x="183.5" y="133.5" width="13" height="13" rx="5" fill="#98b8da"/>
<rect x="193.5" y="133.5" width="13" height="13" rx="5" fill="#2f7fd4"/>
<rect x="203.5" y="133.5" width="13" height="13" rx="5" fill="#408fde"/>
<rect x="213.5" y="133.5" width="13" height="13" rx="5" fill="#2f7fd4"/>
<rect x="223.5" y="133.5" width="13" height="13" rx="5" fill="#798896"/>
<rect x="233.5" y="133.5" width="13" height="13" rx="5" fill="#798896"/>
<rect x="243.5" y="133.5" width="13" height="13" rx="5" fill="#e8963a"/>
<rect x="253.5" y="133.5" width="13" height="13" rx="5" fill="#798896"/>
<rect x="263.5" y="133.5" width="13" height="13" rx="5" fill="#2f7fd4"/>
<rect x="273.5" y="133.5" width="13" height="13" rx="5" fill="#2f7fd4"/>
<rect x="283.5" y="133.5" width="13" height="13" rx="5" fill="#2f7fd4"/>
<rect x="163.5" y="143.5" width="13" height="13" rx="5" fill="#ababab"/>
<rect x="173.5" y="143.5" width="13" height="13" rx="5" fill="#98b8da"/>
<rect x="183.5" y="143.5" width="13" height="13" rx="5" fill="#98b8da"/>
<rect x="193.5" y="143.5" width="13" height="13" rx="5" fill="#2f7fd4"/>
<rect x="203.5" y="143.5" width="13" height="13" rx="5" fill="#2f7fd4"/>
<rect x="213.5" y="143.5" width="13" height="13" rx="5" fill="#798896"/>
<rect x="223.5" y="143.5" width="13" height="13" rx="5" fill="#e8963a"/>
<rect x="233.5" y="143.5" width="13" height="13" rx="5" fill="#e4b37c"/>
<rect x="243.5" y="143.5" width="13" height="13" rx="5" fill="#e8963a"/>
<rect x="253.5" y="143.5" width="13" height="13" rx="5" fill="#e8963a"/>
<rect x="163.5" y="153.5" width="13" height="13" rx="5" fill="#2f7fd4"/>
<rect x="173.5" y="153.5" width="13" height="13" rx="5" fill="#2f7fd4"/>
<rect x="183.5" y="153.5" width="13" height="13" rx="5" fill="#cacaca"/>
<rect x="193.5" y="153.5" width="13" height="13" rx="5" fill="#75a5d8"/>
<rect x="203.5" y="153.5" width="13" height="13" rx="5" fill="#2f7fd4"/>
<rect x="213.5" y="153.5" width="13" height="13" rx="5" fill="#2f7fd4"/>
<rect x="223.5" y="153.5" width="13" height="13" rx="5" fill="#e8963a"/>
<rect x="233.5" y="153.5" width="13" height="13" rx="5" fill="#dedede"/>
<rect x="243.5" y="153.5" width="13" height="13" rx="5" fill="#dedede"/>
<rect x="173.5" y="163.5" width="13" height="13" rx="5" fill="#2f7fd4"/>
<rect x="183.5" y="163.5" width="13" height="13" rx="5" fill="#75a5d8"/>
<rect x="193.5" y="163.5" width="13" height="13" rx="5" fill="#cacaca"/>
<rect x="233.5" y="163.5" width="13" height="13" rx="5" fill="#dedede"/>
</g>
<g filter="url(#bl2)">
<ellipse cx="198" cy="60" rx="14" ry="9" fill="#2f7fd4"/>
<ellipse cx="187" cy="60" rx="5" ry="4" fill="#2f7fd4"/>
<ellipse cx="199" cy="57" rx="4" ry="2.5" fill="#62aef0"/>
<ellipse cx="209" cy="55" rx="3.5" ry="2.5" fill="#62aef0"/>
<ellipse cx="205" cy="70" rx="7" ry="4" fill="#1a4f96"/>
<ellipse cx="197" cy="75" rx="4" ry="2.5" fill="#1a4f96"/>
<ellipse cx="184" cy="72" rx="3.5" ry="7" fill="#e4e4e4"/>
<ellipse cx="224" cy="78" rx="9" ry="7" fill="#e8963a"/>
<ellipse cx="294" cy="75" rx="10" ry="11" fill="#2f7fd4"/>
<ellipse cx="296" cy="71" rx="3.5" ry="2.5" fill="#62aef0"/>
<ellipse cx="276" cy="77" rx="7" ry="7" fill="#2f7fd4"/>
<ellipse cx="249" cy="58" rx="10" ry="11" fill="#2f7fd4"/>
<ellipse cx="252" cy="54" rx="3" ry="2.5" fill="#62aef0"/>
<ellipse cx="268" cy="104" rx="9" ry="6" fill="#e8963a"/>
<ellipse cx="271" cy="107" rx="4.5" ry="3.5" fill="#c06a18"/>
<ellipse cx="289" cy="108" rx="7" ry="13" fill="#e4e4e4"/>
<ellipse cx="183" cy="139" rx="9" ry="11" fill="#e4e4e4"/>
<ellipse cx="231" cy="146" rx="7" ry="6" fill="#e8963a"/>
<ellipse cx="250" cy="141" rx="9" ry="4.5" fill="#e8963a"/>
<ellipse cx="243" cy="154" rx="9" ry="5" fill="#dadada"/>
<ellipse cx="180" cy="95" rx="4.5" ry="9" fill="#e8963a"/>
<ellipse cx="242" cy="117" rx="10" ry="12" fill="#2f7fd4"/>
<ellipse cx="204" cy="142" rx="9" ry="8" fill="#2f7fd4"/>
<ellipse cx="185" cy="161" rx="6" ry="6" fill="#2f7fd4"/>
<ellipse cx="276" cy="132" rx="12" ry="6" fill="#2f7fd4"/>
</g>
<path d="M170.6,85.0 C171.4,82.5 173.5,78.8 175.0,76.0 C176.5,73.2 178.6,71.2 179.5,68.4 C180.4,65.7 179.9,61.5 180.6,59.5 C181.3,57.5 182.4,56.9 183.9,56.2 C185.4,55.6 188.0,56.4 189.5,55.6 C191.0,54.9 191.3,52.9 192.8,51.7 C194.3,50.5 196.5,49.3 198.4,48.4 C200.3,47.5 202.6,46.9 204.0,46.1 C205.4,45.3 205.7,45.0 207.0,43.8 C208.3,42.6 209.9,40.4 211.7,39.1 C213.4,37.8 215.2,37.0 217.5,36.2 C219.8,35.4 223.0,34.9 225.7,34.4 C228.4,33.9 231.3,33.3 233.9,33.3 C236.5,33.3 238.9,33.9 241.0,34.2 C243.1,34.6 245.0,35.4 246.7,35.4 C248.4,35.4 249.8,34.4 251.4,34.4 C253.0,34.4 254.4,34.7 256.0,35.6 C257.6,36.5 259.4,38.2 260.7,39.7 C262.0,41.2 262.8,42.7 263.7,44.4 C264.6,46.1 265.0,47.9 266.0,50.0 C267.0,52.1 267.6,56.1 269.5,57.3 C271.4,58.5 275.1,56.4 277.3,57.3 C279.5,58.2 281.0,62.1 282.8,62.8 C284.6,63.5 286.4,61.5 288.4,61.7 C290.4,61.9 292.8,62.9 295.0,64.0 C297.2,65.1 300.2,66.9 301.8,68.4 C303.4,69.9 304.1,71.1 304.5,73.0 C304.9,74.9 305.4,77.8 304.5,80.0 C303.6,82.2 300.9,84.5 299.0,86.0 C297.1,87.5 294.1,87.1 292.9,88.9 C291.7,90.7 291.1,94.5 291.7,96.7 C292.2,98.9 294.9,100.1 296.2,102.3 C297.5,104.5 298.9,107.9 299.5,110.0 C300.1,112.1 299.9,113.4 299.5,115.0 C299.1,116.6 298.8,118.0 297.3,119.5 C295.8,121.0 291.5,122.1 290.6,123.9 C289.7,125.8 292.1,128.6 291.7,130.6 C291.3,132.6 290.2,134.7 288.4,136.2 C286.5,137.7 283.4,138.9 280.6,139.5 C277.8,140.1 274.1,139.9 271.7,139.5 C269.3,139.1 267.7,137.0 266.0,137.3 C264.3,137.6 263.1,139.6 261.7,141.2 C260.2,142.8 258.6,145.0 257.3,146.7 C256.0,148.4 255.1,149.3 254.0,151.2 C252.9,153.1 252.8,156.4 250.6,157.9 C248.4,159.4 243.4,160.1 240.6,160.1 C237.8,160.1 235.5,159.0 234.0,157.9 C232.5,156.8 233.8,154.3 231.7,153.4 C229.6,152.5 224.5,152.7 221.7,152.3 C218.9,151.9 216.7,151.2 215.0,151.2 C213.3,151.2 213.5,151.6 211.8,152.3 C210.1,153.0 206.7,154.1 205.0,155.6 C203.3,157.1 203.4,159.3 201.7,161.2 C200.0,163.1 197.4,165.5 195.0,166.8 C192.6,168.1 189.9,169.0 187.3,169.0 C184.7,169.0 181.2,168.5 179.5,166.8 C177.8,165.1 177.4,161.2 177.2,159.0 C177.0,156.8 179.3,156.2 178.4,153.4 C177.5,150.6 172.8,146.0 171.7,142.3 C170.6,138.6 172.1,134.7 171.7,131.0 C171.3,127.3 169.9,122.9 169.5,120.0 C169.1,117.1 169.1,116.4 169.5,113.4 C169.9,110.5 171.6,106.0 171.7,102.3 C171.8,98.6 170.2,93.9 170.0,91.0 C169.8,88.1 169.8,87.5 170.6,85.0 Z" fill="url(#shade)"/>
</g>
<defs><linearGradient id="cbar" x1="0" x2="1" y1="0" y2="0"><stop offset="0" stop-color="#2a6db8"/><stop offset="0.25" stop-color="#6aa0d8"/><stop offset="0.5" stop-color="#ffffff"/><stop offset="0.75" stop-color="#f4cf96"/><stop offset="1" stop-color="#f3ac3e"/></linearGradient></defs>
<text x="211.6" y="163.5" font-size="10.6">Phil</text>
<text x="290" y="163.5" font-size="10.6">Phob</text>
<rect x="218.5" y="168.5" width="87" height="6" fill="url(#cbar)" stroke="#111" stroke-width="1"/>
<text x="227" y="186.8" font-size="11" text-anchor="middle">–0.2</text>
<text x="264.8" y="186.8" font-size="11" text-anchor="middle">0.0</text>
<text x="302" y="186.8" font-size="11" text-anchor="middle">0.2</text>
<text class="b" x="345.7" y="13.5" font-size="18.5">b</text>
<polyline points="415.0,153.2 445.0,152.8 466.7,151.1 484.3,147.4 494.8,143.9 506.7,131.7 515.6,113.9 523.7,94.3 532.3,80.2 536.8,73.5 546.1,69.0 548.0,72.0 556.8,98.0 562.0,110.0 569.1,127.0 576.7,137.2 587.8,141.7 605.6,144.4 616.7,149.4 625.6,152.4 640.0,153.3" fill="none" stroke="#1a1a55" stroke-width="1.1"/>
<polyline points="415.0,153.0 445.0,152.4 466.7,150.3 484.3,146.4 494.8,142.4 506.7,129.7 515.6,111.3 523.7,92.0 531.0,79.0 536.8,72.5 546.1,68.4 548.0,72.0 556.8,98.0 562.0,110.0 569.1,127.0 576.7,136.5 585.0,140.0 590.0,143.5 596.1,148.9 600.0,146.5 605.6,144.4 616.7,149.4 625.6,152.4 640.0,153.3" fill="none" stroke="#2424b8" stroke-width="1.1" stroke-dasharray="2.2,1.3"/>
<polyline points="430.0,153.3 460.0,153.1 478.0,152.5 490.0,150.5 500.0,147.4 508.0,142.5 516.1,136.7 521.0,120.0 525.8,103.3 530.5,80.5 535.0,58.0 541.0,41.0 546.7,26.6 551.0,38.0 555.7,53.4 561.3,84.6 565.8,113.6 569.0,127.0 572.0,138.0 576.1,148.3 586.7,152.3 600.0,153.2 620.0,153.4" fill="none" stroke="#ee2a2a" stroke-width="1.1"/>
<rect x="387.5" y="13.5" width="286.0" height="139.9" fill="none" stroke="#222" stroke-width="1"/>
<line x1="416.1" y1="153.4" x2="416.1" y2="149.4" stroke="#222" stroke-width="1"/>
<line x1="444.7" y1="153.4" x2="444.7" y2="149.4" stroke="#222" stroke-width="1"/>
<line x1="473.3" y1="153.4" x2="473.3" y2="149.4" stroke="#222" stroke-width="1"/>
<line x1="501.9" y1="153.4" x2="501.9" y2="149.4" stroke="#222" stroke-width="1"/>
<line x1="530.5" y1="153.4" x2="530.5" y2="149.4" stroke="#222" stroke-width="1"/>
<line x1="559.1" y1="153.4" x2="559.1" y2="149.4" stroke="#222" stroke-width="1"/>
<line x1="587.7" y1="153.4" x2="587.7" y2="149.4" stroke="#222" stroke-width="1"/>
<line x1="616.3" y1="153.4" x2="616.3" y2="149.4" stroke="#222" stroke-width="1"/>
<line x1="644.9" y1="153.4" x2="644.9" y2="149.4" stroke="#222" stroke-width="1"/>
<text x="416.1" y="166.2" font-size="11" text-anchor="middle">–0.8</text>
<text x="473.3" y="166.2" font-size="11" text-anchor="middle">–0.4</text>
<text x="530.5" y="166.2" font-size="11" text-anchor="middle">0</text>
<text x="587.7" y="166.2" font-size="11" text-anchor="middle">0.4</text>
<text x="644.9" y="166.2" font-size="11" text-anchor="middle">0.8</text>
<line x1="387.5" y1="153.4" x2="392.5" y2="153.4" stroke="#222" stroke-width="1"/>
<text x="382.6" y="157.3" font-size="11" text-anchor="end">0</text>
<line x1="387.5" y1="122.2" x2="392.5" y2="122.2" stroke="#222" stroke-width="1"/>
<text x="382.6" y="126.2" font-size="11" text-anchor="end">1</text>
<line x1="387.5" y1="91.1" x2="392.5" y2="91.1" stroke="#222" stroke-width="1"/>
<text x="382.6" y="95.0" font-size="11" text-anchor="end">2</text>
<line x1="387.5" y1="60.0" x2="392.5" y2="60.0" stroke="#222" stroke-width="1"/>
<text x="382.6" y="63.9" font-size="11" text-anchor="end">3</text>
<line x1="387.5" y1="28.8" x2="392.5" y2="28.8" stroke="#222" stroke-width="1"/>
<text x="382.6" y="32.7" font-size="11" text-anchor="end">4</text>
<text class="i" transform="translate(367.4,82.9) rotate(-90)" font-size="11" text-anchor="middle">P</text>
<text x="509.8" y="181.7" font-size="10.7">MHP</text>
<text x="534.8" y="185.7" font-size="8.1">seq</text>
<line x1="399.9" y1="26.4" x2="411.1" y2="26.4" stroke="#ee2a2a" stroke-width="1.1"/>
<line x1="399.9" y1="39" x2="411.1" y2="39" stroke="#111" stroke-width="1.1"/>
<line x1="399.9" y1="50.4" x2="411.1" y2="50.4" stroke="#2424b8" stroke-width="1.1" stroke-dasharray="2.2,1.3"/>
<text x="415" y="30.3" font-size="9.5">3D set (1,109)</text>
<text x="415" y="41.6" font-size="9.5">Human proteome (17,083)</text>
<text x="415" y="52.7" font-size="9.5">3D set 10% sample (104)</text>
<text class="i" x="592.6" y="129.7" font-size="11">RMSD = 0.038</text>
<text class="b" x="0" y="222.8" font-size="18.5">c</text>
<rect x="55.9" y="377.7" width="5.6" height="28.1" fill="#f01414"/>
<rect x="61.5" y="367.4" width="5.6" height="38.4" fill="#1414e6"/>
<line x1="64.3" y1="356.9" x2="64.3" y2="377.9" stroke="#222" stroke-width="1"/>
<line x1="61.9" y1="356.9" x2="66.7" y2="356.9" stroke="#222" stroke-width="1"/>
<line x1="61.9" y1="377.9" x2="66.7" y2="377.9" stroke="#222" stroke-width="1"/>
<rect x="79.6" y="337.8" width="5.6" height="68.0" fill="#f01414"/>
<rect x="85.2" y="318.8" width="5.6" height="87.0" fill="#1414e6"/>
<line x1="88.0" y1="307.5" x2="88.0" y2="330.5" stroke="#222" stroke-width="1"/>
<line x1="85.6" y1="307.5" x2="90.4" y2="307.5" stroke="#222" stroke-width="1"/>
<line x1="85.6" y1="330.5" x2="90.4" y2="330.5" stroke="#222" stroke-width="1"/>
<rect x="127.4" y="353.8" width="5.6" height="52.0" fill="#f01414"/>
<rect x="133.0" y="321.8" width="5.6" height="84.0" fill="#1414e6"/>
<line x1="135.8" y1="310.9" x2="135.8" y2="333.0" stroke="#222" stroke-width="1"/>
<line x1="133.4" y1="310.9" x2="138.2" y2="310.9" stroke="#222" stroke-width="1"/>
<line x1="133.4" y1="333.0" x2="138.2" y2="333.0" stroke="#222" stroke-width="1"/>
<rect x="151.4" y="329.2" width="5.6" height="76.6" fill="#f01414"/>
<rect x="157.0" y="290.3" width="5.6" height="115.5" fill="#1414e6"/>
<line x1="159.8" y1="283.4" x2="159.8" y2="297.3" stroke="#222" stroke-width="1"/>
<line x1="157.4" y1="283.4" x2="162.2" y2="283.4" stroke="#222" stroke-width="1"/>
<line x1="157.4" y1="297.3" x2="162.2" y2="297.3" stroke="#222" stroke-width="1"/>
<rect x="198.9" y="364.0" width="5.6" height="41.8" fill="#f01414"/>
<rect x="204.5" y="362.9" width="5.6" height="42.9" fill="#1414e6"/>
<line x1="207.3" y1="351.9" x2="207.3" y2="373.1" stroke="#222" stroke-width="1"/>
<line x1="204.9" y1="351.9" x2="209.7" y2="351.9" stroke="#222" stroke-width="1"/>
<line x1="204.9" y1="373.1" x2="209.7" y2="373.1" stroke="#222" stroke-width="1"/>
<rect x="222.7" y="346.2" width="5.6" height="59.6" fill="#f01414"/>
<rect x="228.3" y="357.6" width="5.6" height="48.2" fill="#1414e6"/>
<line x1="231.1" y1="345.5" x2="231.1" y2="369.6" stroke="#222" stroke-width="1"/>
<line x1="228.7" y1="345.5" x2="233.5" y2="345.5" stroke="#222" stroke-width="1"/>
<line x1="228.7" y1="369.6" x2="233.5" y2="369.6" stroke="#222" stroke-width="1"/>
<rect x="269.6" y="280.4" width="5.6" height="125.4" fill="#f01414"/>
<rect x="275.2" y="261.5" width="5.6" height="144.3" fill="#1414e6"/>
<line x1="278.0" y1="256.8" x2="278.0" y2="267.0" stroke="#222" stroke-width="1"/>
<line x1="275.6" y1="256.8" x2="280.4" y2="256.8" stroke="#222" stroke-width="1"/>
<line x1="275.6" y1="267.0" x2="280.4" y2="267.0" stroke="#222" stroke-width="1"/>
<rect x="294.2" y="309.0" width="5.6" height="96.8" fill="#f01414"/>
<rect x="299.8" y="281.5" width="5.6" height="124.3" fill="#1414e6"/>
<line x1="302.6" y1="275.8" x2="302.6" y2="287.8" stroke="#222" stroke-width="1"/>
<line x1="300.2" y1="275.8" x2="305.0" y2="275.8" stroke="#222" stroke-width="1"/>
<line x1="300.2" y1="287.8" x2="305.0" y2="287.8" stroke="#222" stroke-width="1"/>
<rect x="37.4" y="233.5" width="286.3" height="172.3" fill="none" stroke="#444" stroke-width="1"/>
<line x1="37.4" y1="405.8" x2="42.4" y2="405.8" stroke="#444" stroke-width="1"/>
<line x1="37.4" y1="388.6" x2="40.4" y2="388.6" stroke="#444" stroke-width="1"/>
<line x1="37.4" y1="371.4" x2="42.4" y2="371.4" stroke="#444" stroke-width="1"/>
<line x1="37.4" y1="354.1" x2="40.4" y2="354.1" stroke="#444" stroke-width="1"/>
<line x1="37.4" y1="336.9" x2="42.4" y2="336.9" stroke="#444" stroke-width="1"/>
<line x1="37.4" y1="319.7" x2="40.4" y2="319.7" stroke="#444" stroke-width="1"/>
<line x1="37.4" y1="302.5" x2="42.4" y2="302.5" stroke="#444" stroke-width="1"/>
<line x1="37.4" y1="285.3" x2="40.4" y2="285.3" stroke="#444" stroke-width="1"/>
<line x1="37.4" y1="268.0" x2="42.4" y2="268.0" stroke="#444" stroke-width="1"/>
<line x1="37.4" y1="250.8" x2="40.4" y2="250.8" stroke="#444" stroke-width="1"/>
<line x1="37.4" y1="233.6" x2="42.4" y2="233.6" stroke="#444" stroke-width="1"/>
<text x="32.5" y="409.7" font-size="11" text-anchor="end">0</text>
<text x="32.5" y="375.3" font-size="11" text-anchor="end">0.2</text>
<text x="32.5" y="340.8" font-size="11" text-anchor="end">0.4</text>
<text x="32.5" y="306.4" font-size="11" text-anchor="end">0.6</text>
<text x="32.5" y="271.9" font-size="11" text-anchor="end">0.8</text>
<text x="32.5" y="237.5" font-size="11" text-anchor="end">1</text>
<text transform="translate(9.9,319.8) rotate(-90)" font-size="11" text-anchor="middle">max |<tspan class="i">R</tspan>|</text>
<rect x="49.6" y="244.6" width="6.2" height="5.6" fill="#f01414"/>
<rect x="49.6" y="260.9" width="6.2" height="5.6" fill="#1414e6"/>
<text x="59.8" y="251.3" font-size="11">3D set</text>
<text x="59.8" y="267" font-size="11">100 random 3D set 10% samples</text>
<text transform="translate(63.5,419.5) rotate(-28)" font-size="11.2" text-anchor="end">HFE</text>
<text transform="translate(90,419.5) rotate(-28)" font-size="11.2" text-anchor="end">HFE/N</text>
<text transform="translate(138,416.3) rotate(-28)" font-size="11.2" text-anchor="end">MHP<tspan font-size="8.2" dy="2.6"> 3D</tspan></text>
<text transform="translate(162,419.5) rotate(-28)" font-size="11.2" text-anchor="end">MHP<tspan font-size="8.2" dy="2.6"> 3D</tspan><tspan dy="-2.6">/N</tspan></text>
<text transform="translate(205,419.5) rotate(-28)" font-size="11.2" text-anchor="end">SASA</text>
<text transform="translate(231,419.5) rotate(-28)" font-size="11.2" text-anchor="end">SASA/N</text>
<text transform="translate(277,419.5) rotate(-28)" font-size="11.2" text-anchor="end">Factor I</text>
<text transform="translate(303,419.5) rotate(-28)" font-size="11.2" text-anchor="end">MHPseq</text>
<text class="b" x="345.9" y="226.1" font-size="18">d</text>
<rect x="392.0" y="246.4" width="120.3" height="121.3" fill="#0e0000"/>
<rect x="392.50" y="246.90" width="11.03" height="11.13" fill="#ff4010"/>
<rect x="404.53" y="246.90" width="11.03" height="11.13" fill="#dd1010"/>
<rect x="416.56" y="246.90" width="11.03" height="11.13" fill="#220000"/>
<rect x="392.50" y="259.03" width="11.03" height="11.13" fill="#a00000"/>
<rect x="404.53" y="259.03" width="11.03" height="11.13" fill="#ffffff"/>
<rect x="416.56" y="259.03" width="11.03" height="11.13" fill="#dd1010"/>
<rect x="428.59" y="259.03" width="11.03" height="11.13" fill="#1a0000"/>
<rect x="404.53" y="271.16" width="11.03" height="11.13" fill="#a00000"/>
<rect x="416.56" y="271.16" width="11.03" height="11.13" fill="#ff1010"/>
<rect x="428.59" y="271.16" width="11.03" height="11.13" fill="#300404"/>
<rect x="416.56" y="283.29" width="11.03" height="11.13" fill="#2c0000"/>
<rect x="428.59" y="283.29" width="11.03" height="11.13" fill="#2c0000"/>
<rect x="440.62" y="283.29" width="11.03" height="11.13" fill="#1c0000"/>
<rect x="452.65" y="283.29" width="11.03" height="11.13" fill="#1c0000"/>
<rect x="452.65" y="319.68" width="11.03" height="11.13" fill="#1a0000"/>
<rect x="464.68" y="319.68" width="11.03" height="11.13" fill="#340000"/>
<rect x="476.71" y="319.68" width="11.03" height="11.13" fill="#240000"/>
<rect x="452.65" y="331.81" width="11.03" height="11.13" fill="#1a0000"/>
<rect x="464.68" y="331.81" width="11.03" height="11.13" fill="#500000"/>
<rect x="476.71" y="331.81" width="11.03" height="11.13" fill="#f01010"/>
<rect x="488.74" y="331.81" width="11.03" height="11.13" fill="#c00808"/>
<rect x="500.77" y="331.81" width="11.03" height="11.13" fill="#240000"/>
<rect x="476.71" y="343.94" width="11.03" height="11.13" fill="#b00000"/>
<rect x="488.74" y="343.94" width="11.03" height="11.13" fill="#fff8c8"/>
<rect x="500.77" y="343.94" width="11.03" height="11.13" fill="#e80808"/>
<rect x="476.71" y="356.07" width="11.03" height="11.13" fill="#160000"/>
<rect x="488.74" y="356.07" width="11.03" height="11.13" fill="#c00000"/>
<rect x="500.77" y="356.07" width="11.03" height="11.13" fill="#ff3010"/>
<rect x="392.0" y="246.4" width="120.3" height="121.3" fill="none" stroke="#000" stroke-width="1"/>
<rect x="561.5" y="246.4" width="120.8" height="121.2" fill="#0e0000"/>
<rect x="562.00" y="246.90" width="11.08" height="11.12" fill="#e80808"/>
<rect x="574.08" y="246.90" width="11.08" height="11.12" fill="#d00808"/>
<rect x="562.00" y="259.02" width="11.08" height="11.12" fill="#f00808"/>
<rect x="574.08" y="259.02" width="11.08" height="11.12" fill="#ffffff"/>
<rect x="574.08" y="271.14" width="11.08" height="11.12" fill="#900000"/>
<rect x="574.08" y="283.26" width="11.08" height="11.12" fill="#200000"/>
<rect x="586.16" y="283.26" width="11.08" height="11.12" fill="#280000"/>
<rect x="646.56" y="319.62" width="11.08" height="11.12" fill="#1c0000"/>
<rect x="658.64" y="319.62" width="11.08" height="11.12" fill="#1c0000"/>
<rect x="670.72" y="319.62" width="11.08" height="11.12" fill="#1a0000"/>
<rect x="658.64" y="331.74" width="11.08" height="11.12" fill="#d00808"/>
<rect x="670.72" y="331.74" width="11.08" height="11.12" fill="#220000"/>
<rect x="658.64" y="343.86" width="11.08" height="11.12" fill="#f8f040"/>
<rect x="670.72" y="343.86" width="11.08" height="11.12" fill="#ff8010"/>
<rect x="658.64" y="355.98" width="11.08" height="11.12" fill="#280000"/>
<rect x="670.72" y="355.98" width="11.08" height="11.12" fill="#c00010"/>
<rect x="561.5" y="246.4" width="120.8" height="121.2" fill="none" stroke="#000" stroke-width="1"/>
<text class="i" x="453.8" y="236.8" font-size="11.2" text-anchor="middle">HFE/N</text>
<text class="i" x="622.2" y="236.8" font-size="11.2" text-anchor="middle">MHP<tspan font-size="8.2" dy="3.3">3D</tspan><tspan dy="-3.3">/N</tspan></text>
<text x="404.0" y="380.6" font-size="10.3" text-anchor="middle">0.2</text>
<text x="573.6" y="380.6" font-size="10.3" text-anchor="middle">0.2</text>
<text x="428.1" y="380.6" font-size="10.3" text-anchor="middle">0.6</text>
<text x="597.7" y="380.6" font-size="10.3" text-anchor="middle">0.6</text>
<text x="452.1" y="380.6" font-size="10.3" text-anchor="middle">1.0</text>
<text x="621.9" y="380.6" font-size="10.3" text-anchor="middle">1.0</text>
<text x="476.2" y="380.6" font-size="10.3" text-anchor="middle">1.4</text>
<text x="646.1" y="380.6" font-size="10.3" text-anchor="middle">1.4</text>
<text x="500.3" y="380.6" font-size="10.3" text-anchor="middle">1.8</text>
<text x="670.2" y="380.6" font-size="10.3" text-anchor="middle">1.8</text>
<text x="386.8" y="262.1" font-size="10.3" text-anchor="end">1.8</text>
<text x="386.8" y="286.4" font-size="10.3" text-anchor="end">1.4</text>
<text x="386.8" y="310.7" font-size="10.3" text-anchor="end">1.0</text>
<text x="386.8" y="334.9" font-size="10.3" text-anchor="end">0.6</text>
<text x="386.8" y="359.2" font-size="10.3" text-anchor="end">0.2</text>
<text x="556.3" y="262.1" font-size="10.3" text-anchor="end">1.4</text>
<text x="556.3" y="286.4" font-size="10.3" text-anchor="end">1.2</text>
<text x="556.3" y="310.6" font-size="10.3" text-anchor="end">1.0</text>
<text x="556.3" y="334.8" font-size="10.3" text-anchor="end">0.8</text>
<text x="556.3" y="359.1" font-size="10.3" text-anchor="end">0.6</text>
<g transform="translate(453.5,397.2) rotate(0)"><text x="-26.9" y="0" font-size="11">[</text><text class="i" x="-20.6" y="0" font-size="11">w</text><path d="M-19.2,-8.6 q1.6,-2.2 3.4,-0.8 t3.4,-0.8" fill="none" stroke="#1a1a1a" stroke-width="0.75"/><text class="i" x="-13.0" y="3.2" font-size="7">G</text><text class="i" x="7.9" y="0" font-size="11">w</text><path d="M9.3,-8.6 q1.6,-2.2 3.4,-0.8 t3.4,-0.8" fill="none" stroke="#1a1a1a" stroke-width="0.75"/><text class="i" x="15.5" y="3.2" font-size="7">A</text><text x="-2.2" y="0" font-size="11">+</text><text x="24.0" y="0" font-size="11">]</text></g>
<g transform="translate(621.8,397.2) rotate(0)"><text x="-26.9" y="0" font-size="11">[</text><text class="i" x="-20.6" y="0" font-size="11">w</text><path d="M-19.2,-8.6 q1.6,-2.2 3.4,-0.8 t3.4,-0.8" fill="none" stroke="#1a1a1a" stroke-width="0.75"/><text class="i" x="-13.0" y="3.2" font-size="7">G</text><text class="i" x="7.9" y="0" font-size="11">w</text><path d="M9.3,-8.6 q1.6,-2.2 3.4,-0.8 t3.4,-0.8" fill="none" stroke="#1a1a1a" stroke-width="0.75"/><text class="i" x="15.5" y="3.2" font-size="7">A</text><text x="-2.2" y="0" font-size="11">+</text><text x="24.0" y="0" font-size="11">]</text></g>
<g transform="translate(361.6,303.5) rotate(-90)"><text x="-26.9" y="0" font-size="11">[</text><text class="i" x="-20.6" y="0" font-size="11">w</text><path d="M-19.2,-8.6 q1.6,-2.2 3.4,-0.8 t3.4,-0.8" fill="none" stroke="#1a1a1a" stroke-width="0.75"/><text class="i" x="-13.0" y="3.2" font-size="7">C</text><text class="i" x="7.9" y="0" font-size="11">w</text><path d="M9.3,-8.6 q1.6,-2.2 3.4,-0.8 t3.4,-0.8" fill="none" stroke="#1a1a1a" stroke-width="0.75"/><text class="i" x="15.5" y="3.2" font-size="7">U</text><text x="-2.2" y="0" font-size="11">+</text><text x="24.0" y="0" font-size="11">]</text></g>
<g transform="translate(532.2,303.5) rotate(-90)"><text x="-26.9" y="0" font-size="11">[</text><text class="i" x="-20.6" y="0" font-size="11">w</text><path d="M-19.2,-8.6 q1.6,-2.2 3.4,-0.8 t3.4,-0.8" fill="none" stroke="#1a1a1a" stroke-width="0.75"/><text class="i" x="-13.0" y="3.2" font-size="7">C</text><text class="i" x="7.9" y="0" font-size="11">w</text><path d="M9.3,-8.6 q1.6,-2.2 3.4,-0.8 t3.4,-0.8" fill="none" stroke="#1a1a1a" stroke-width="0.75"/><text class="i" x="15.5" y="3.2" font-size="7">U</text><text x="-2.2" y="0" font-size="11">+</text><text x="24.0" y="0" font-size="11">]</text></g>
<defs><linearGradient id="hotg" x1="0" x2="1" y1="0" y2="0"><stop offset="0.000" stop-color="#000000"/><stop offset="0.050" stop-color="#220000"/><stop offset="0.100" stop-color="#440000"/><stop offset="0.150" stop-color="#650000"/><stop offset="0.200" stop-color="#880000"/><stop offset="0.250" stop-color="#aa0000"/><stop offset="0.300" stop-color="#cb0000"/><stop offset="0.350" stop-color="#ed0000"/><stop offset="0.400" stop-color="#ff1100"/><stop offset="0.450" stop-color="#ff3300"/><stop offset="0.500" stop-color="#ff5500"/><stop offset="0.550" stop-color="#ff7700"/><stop offset="0.600" stop-color="#ff9900"/><stop offset="0.650" stop-color="#ffbb00"/><stop offset="0.700" stop-color="#ffdc00"/><stop offset="0.750" stop-color="#ffff00"/><stop offset="0.800" stop-color="#ffff33"/><stop offset="0.850" stop-color="#ffff65"/><stop offset="0.900" stop-color="#ffff99"/><stop offset="0.950" stop-color="#ffffcb"/><stop offset="1.000" stop-color="#ffffff"/></linearGradient></defs>
<rect x="391.4" y="409.7" width="121.1" height="7.9" fill="url(#hotg)" stroke="#111" stroke-width="1"/>
<rect x="560.9" y="409.7" width="121.0" height="7.9" fill="url(#hotg)" stroke="#111" stroke-width="1"/>
<line x1="410.2" y1="409.7" x2="410.2" y2="411.4" stroke="#111" stroke-width="0.8"/><line x1="410.2" y1="417.6" x2="410.2" y2="415.9" stroke="#111" stroke-width="0.8"/>
<line x1="427.7" y1="409.7" x2="427.7" y2="411.4" stroke="#111" stroke-width="0.8"/><line x1="427.7" y1="417.6" x2="427.7" y2="415.9" stroke="#111" stroke-width="0.8"/>
<line x1="445.2" y1="409.7" x2="445.2" y2="411.4" stroke="#111" stroke-width="0.8"/><line x1="445.2" y1="417.6" x2="445.2" y2="415.9" stroke="#111" stroke-width="0.8"/>
<line x1="462.8" y1="409.7" x2="462.8" y2="411.4" stroke="#111" stroke-width="0.8"/><line x1="462.8" y1="417.6" x2="462.8" y2="415.9" stroke="#111" stroke-width="0.8"/>
<line x1="480.4" y1="409.7" x2="480.4" y2="411.4" stroke="#111" stroke-width="0.8"/><line x1="480.4" y1="417.6" x2="480.4" y2="415.9" stroke="#111" stroke-width="0.8"/>
<line x1="498.0" y1="409.7" x2="498.0" y2="411.4" stroke="#111" stroke-width="0.8"/><line x1="498.0" y1="417.6" x2="498.0" y2="415.9" stroke="#111" stroke-width="0.8"/>
<line x1="573.1" y1="409.7" x2="573.1" y2="411.4" stroke="#111" stroke-width="0.8"/><line x1="573.1" y1="417.6" x2="573.1" y2="415.9" stroke="#111" stroke-width="0.8"/>
<line x1="585.3" y1="409.7" x2="585.3" y2="411.4" stroke="#111" stroke-width="0.8"/><line x1="585.3" y1="417.6" x2="585.3" y2="415.9" stroke="#111" stroke-width="0.8"/>
<line x1="597.5" y1="409.7" x2="597.5" y2="411.4" stroke="#111" stroke-width="0.8"/><line x1="597.5" y1="417.6" x2="597.5" y2="415.9" stroke="#111" stroke-width="0.8"/>
<line x1="609.7" y1="409.7" x2="609.7" y2="411.4" stroke="#111" stroke-width="0.8"/><line x1="609.7" y1="417.6" x2="609.7" y2="415.9" stroke="#111" stroke-width="0.8"/>
<line x1="621.9" y1="409.7" x2="621.9" y2="411.4" stroke="#111" stroke-width="0.8"/><line x1="621.9" y1="417.6" x2="621.9" y2="415.9" stroke="#111" stroke-width="0.8"/>
<line x1="634.1" y1="409.7" x2="634.1" y2="411.4" stroke="#111" stroke-width="0.8"/><line x1="634.1" y1="417.6" x2="634.1" y2="415.9" stroke="#111" stroke-width="0.8"/>
<line x1="646.3" y1="409.7" x2="646.3" y2="411.4" stroke="#111" stroke-width="0.8"/><line x1="646.3" y1="417.6" x2="646.3" y2="415.9" stroke="#111" stroke-width="0.8"/>
<line x1="658.5" y1="409.7" x2="658.5" y2="411.4" stroke="#111" stroke-width="0.8"/><line x1="658.5" y1="417.6" x2="658.5" y2="415.9" stroke="#111" stroke-width="0.8"/>
<line x1="670.7" y1="409.7" x2="670.7" y2="411.4" stroke="#111" stroke-width="0.8"/><line x1="670.7" y1="417.6" x2="670.7" y2="415.9" stroke="#111" stroke-width="0.8"/>
<text x="393.6" y="431.2" font-size="10.6" text-anchor="middle">0</text>
<text x="428.6" y="431.2" font-size="10.6" text-anchor="middle">10</text>
<text x="463.6" y="431.2" font-size="10.6" text-anchor="middle">20</text>
<text x="499.3" y="431.2" font-size="10.6" text-anchor="middle">30</text>
<text x="562.4" y="431.4" font-size="10.6" text-anchor="middle">0</text>
<text x="598.5" y="431.4" font-size="10.6" text-anchor="middle">15</text>
<text x="633.9" y="431.4" font-size="10.6" text-anchor="middle">30</text>
<text x="670.1" y="431.4" font-size="10.6" text-anchor="middle">45</text>
<text x="451.9" y="444.9" font-size="11" text-anchor="middle">N scales</text>
<text x="621.6" y="445.1" font-size="11" text-anchor="middle">N scales</text>
</svg></body></html>
